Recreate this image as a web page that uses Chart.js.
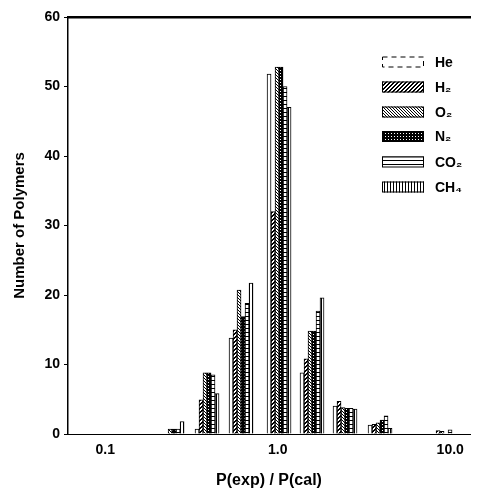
<!DOCTYPE html>
<html><head><meta charset="utf-8">
<script src="https://cdn.jsdelivr.net/npm/chart.js@4.4.0/dist/chart.umd.min.js"></script>
<style>html,body{margin:0;padding:0;background:#fff;} canvas{display:block;}</style>
</head><body>
<canvas id="c" width="484" height="492"></canvas>
<script>
// Bin centres of P(exp)/P(cal) (log-spaced bins)
const binCenters = [0.244, 0.389, 0.6125, 1.0175, 1.58, 2.455, 3.918, 9.21];
const seriesLabels = ['He', 'H₂', 'O₂', 'N₂', 'CO₂', 'CH₄'];
const heValues  = [0,   0.7, 13.8, 51.8,  8.8, 4.0, 1.3, 0];
const h2Values  = [0,   4.9, 15.0, 32.0, 10.8, 4.7, 1.4, 0.5];
const o2Values  = [0.7, 8.8, 20.7, 52.8, 14.8, 3.8, 1.6, 0.4];
const n2Values  = [0.7, 8.8, 16.9, 52.8, 14.8, 3.7, 2.0, 0];
const co2Values = [0.7, 8.5, 18.8, 50.0, 17.7, 3.7, 2.6, 0.6];
const ch4Values = [1.8, 5.8, 21.7, 47.0, 19.6, 3.6, 0.8, 0];
const xTickValues = [0.1, 1, 10];
const xTickLabels = ['0.1', '1.0', '10.0'];
const yMin = 0, yMax = 60, yStep = 10;

const FONT = "'Liberation Sans', Arial, Helvetica, sans-serif";

function makePattern(kind) {
  const size = (kind === 'o2' || kind === 'n2' || kind === 'ch4') ? 3 : 4;
  const c = document.createElement('canvas');
  c.width = size; c.height = size;
  const g = c.getContext('2d');
  g.fillStyle = '#fff'; g.fillRect(0, 0, size, size);
  g.fillStyle = '#000';
  for (let x = 0; x < size; x++) {
    for (let y = 0; y < size; y++) {
      let on = false;
      if (kind === 'h2') on = ((x + y) % size === size - 1) || ((x + y) % size === 0);
      else if (kind === 'o2') on = ((x - y + size) % size === 0);
      else if (kind === 'n2') on = !(x === 1 && y === 1);
      else if (kind === 'co2') on = (y === 0);
      else if (kind === 'ch4') on = (x === 0);
      if (on) g.fillRect(x, y, 1, 1);
    }
  }
  return g.createPattern(c, 'repeat');
}

const kinds = ['he', 'h2', 'o2', 'n2', 'co2', 'ch4'];
const allValues = [heValues, h2Values, o2Values, n2Values, co2Values, ch4Values];

const datasets = allValues.map((vals, i) => ({
  label: seriesLabels[i],
  data: binCenters.map((x, j) => ({ x: x, y: vals[j] })),
  backgroundColor: kinds[i] === 'he' ? '#ffffff' : makePattern(kinds[i]),
  borderColor: '#000',
  borderWidth: 1,
  barThickness: 4,
  xAxisID: 'x',
  yAxisID: 'y'
}));

const legendPlugin = {
  id: 'customLegend',
  afterDraw(chart) {
    const ctx = chart.ctx;
    const boxX = 382, boxW = 42, boxH = 11, textX = 435;
    const rowY = [62, 87, 112, 136.5, 162, 187];
    ctx.save();
    chart.data.datasets.forEach((ds, i) => {
      const cy = rowY[i];
      ctx.fillStyle = ds.backgroundColor;
      ctx.fillRect(boxX, cy - boxH / 2, boxW, boxH);
      ctx.strokeStyle = '#000';
      ctx.lineWidth = 1;
      if (i === 0) ctx.setLineDash([5, 4]); else ctx.setLineDash([]);
      ctx.strokeRect(boxX + 0.5, cy - boxH / 2 + 0.5, boxW - 1, boxH - 1);
      ctx.setLineDash([]);
      ctx.fillStyle = '#000';
      ctx.font = "bold 14px " + FONT;
      ctx.textBaseline = 'middle';
      ctx.textAlign = 'left';
      ctx.fillText(ds.label, textX, cy + 1);
    });
    ctx.restore();
  }
};

new Chart(document.getElementById('c'), {
  type: 'bar',
  data: { datasets: datasets },
  plugins: [legendPlugin],
  options: {
    responsive: false,
    animation: false,
    layout: { padding: { top: 17, right: 14, left: 0, bottom: 0 } },
    plugins: { legend: { display: false }, tooltip: { enabled: false } },
    scales: {
      x: {
        type: 'logarithmic',
        position: 'bottom',
        min: 0.0608,
        max: 13.02,
        offset: false,
        afterBuildTicks: s => { s.ticks = xTickValues.map(v => ({ value: v })); },
        ticks: {
          callback: (v, i) => xTickLabels[i],
          font: { family: FONT, weight: 'bold', size: 14 },
          color: '#000',
          padding: 8,
          maxRotation: 0,
          autoSkip: false
        },
        grid: { display: false, drawTicks: false },
        border: { display: true, color: '#000', width: 1 },
        title: {
          display: true,
          text: 'P(exp) / P(cal)',
          font: { family: FONT, weight: 'bold', size: 16 },
          color: '#000',
          padding: { top: 0, bottom: 2 }
        },
        afterFit: s => { s.height = 58; }
      },
      xTop: {
        type: 'linear',
        position: 'top',
        display: true,
        min: 0, max: 1,
        ticks: { display: false },
        grid: { display: false, drawTicks: false },
        border: { display: true, color: '#000', width: 2.5 },
        afterFit: s => { s.height = 0; }
      },
      y: {
        min: yMin,
        max: yMax,
        ticks: {
          stepSize: yStep,
          font: { family: FONT, weight: 'bold', size: 14 },
          color: '#000',
          padding: 4
        },
        grid: { drawOnChartArea: false, drawTicks: true, tickLength: 4, color: '#000', lineWidth: 1 },
        border: { display: true, color: '#000', width: 1.5 },
        title: {
          display: true,
          text: 'Number of Polymers',
          font: { family: FONT, weight: 'bold', size: 15 },
          color: '#000',
          padding: { top: 11, bottom: 0 }
        },
        afterFit: s => { s.width = 68; }
      }
    }
  }
});
</script>
</body></html>
